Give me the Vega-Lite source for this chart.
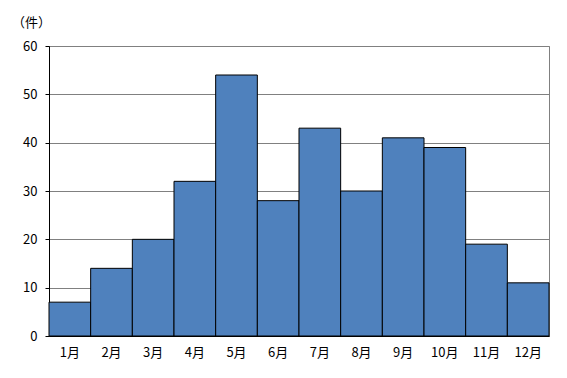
{
  "$schema": "https://vega.github.io/schema/vega-lite/v6.json",
  "width": 500,
  "height": 290,
  "autosize": {"type": "none"},
  "padding": {"left": 49, "top": 46, "right": 18, "bottom": 42},
  "background": "white",
  "config": {
    "view": {"stroke": "#808080", "strokeWidth": 1},
    "font": "Noto Sans CJK JP"
  },
  "data": {
    "values": [
      {"month": "1月", "count": 7},
      {"month": "2月", "count": 14},
      {"month": "3月", "count": 20},
      {"month": "4月", "count": 32},
      {"month": "5月", "count": 54},
      {"month": "6月", "count": 28},
      {"month": "7月", "count": 43},
      {"month": "8月", "count": 30},
      {"month": "9月", "count": 41},
      {"month": "10月", "count": 39},
      {"month": "11月", "count": 19},
      {"month": "12月", "count": 11}
    ]
  },
  "mark": {"type": "bar", "color": "#4F81BD", "stroke": "black", "strokeWidth": 1},
  "encoding": {
    "x": {
      "field": "month",
      "type": "ordinal",
      "sort": null,
      "scale": {"paddingInner": 0, "paddingOuter": 0},
      "axis": {
        "title": null,
        "labelAngle": 0,
        "ticks": false,
        "domainColor": "black",
        "labelColor": "black",
        "labelFontSize": 13,
        "labelPadding": 10,
        "labelFont": "Noto Sans CJK JP"
      }
    },
    "y": {
      "field": "count",
      "type": "quantitative",
      "scale": {"domain": [0, 60]},
      "axis": {
        "values": [0, 10, 20, 30, 40, 50, 60],
        "grid": true,
        "gridColor": "#808080",
        "gridWidth": 1,
        "domainColor": "black",
        "tickColor": "black",
        "tickSize": 4,
        "labelColor": "black",
        "labelFontSize": 13,
        "labelPadding": 8,
        "labelFont": "Noto Sans CJK JP",
        "title": "（件）",
        "titleAngle": 0,
        "titleAlign": "center",
        "titleBaseline": "middle",
        "titleX": -18,
        "titleY": -24,
        "titleFontSize": 13,
        "titleFontWeight": "normal",
        "titleColor": "black",
        "titleFont": "Noto Sans CJK JP"
      }
    }
  }
}
